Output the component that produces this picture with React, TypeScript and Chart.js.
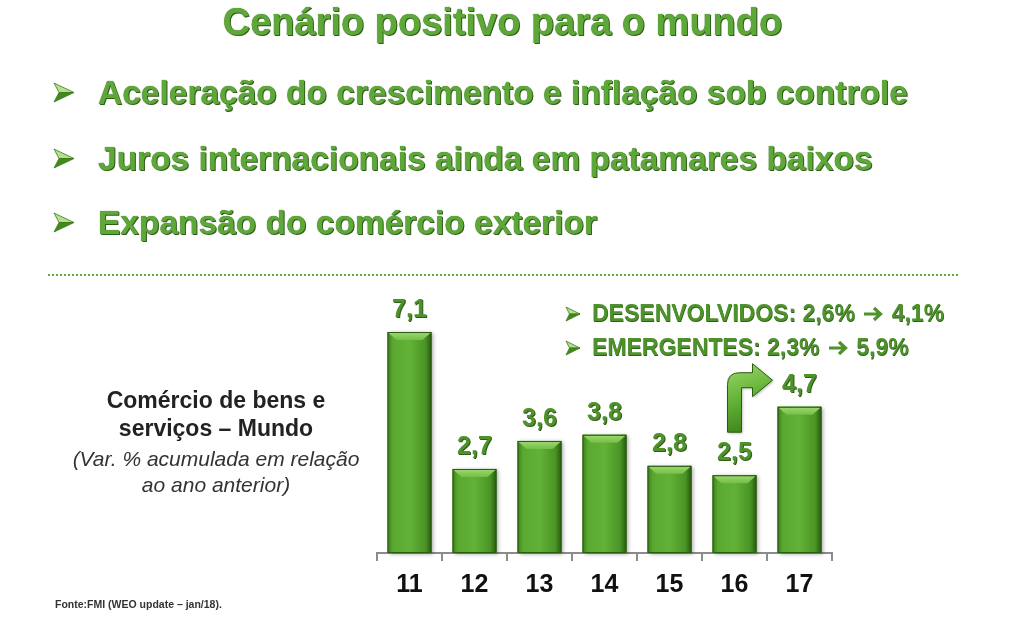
import React, { useEffect, useRef } from "react";
import { Chart, registerables } from "chart.js";

Chart.register(...registerables);

// ---- data ----
const years = ["11", "12", "13", "14", "15", "16", "17"];
const tradeGrowth = [7.1, 2.7, 3.6, 3.8, 2.8, 2.5, 4.7];
const yAxisMax = 8;

const titleText = "Cenário positivo para o mundo";
const bulletTexts = [
  "Aceleração do crescimento e inflação sob controle",
  "Juros internacionais ainda em patamares baixos",
  "Expansão do comércio exterior",
];
const regionNotes = [
  ["DESENVOLVIDOS: 2,6%", "4,1%"],
  ["EMERGENTES: 2,3%", "5,9%"],
];
const sideTitle = ["Comércio de bens e", "serviços – Mundo"];
const sideSubtitle = ["(Var. % acumulada em relação", "ao ano anterior)"];
const sourceText = "Fonte:FMI (WEO update – jan/18).";

const FONT = "'Liberation Sans', Arial, Helvetica, sans-serif";
const GREEN_TEXT = "#4e922c";

const barStylePlugin = {
  id: "barStyle",
  afterDatasetsDraw(chart: any) {
    const ctx = chart.ctx as CanvasRenderingContext2D;
    const meta = chart.getDatasetMeta(0);
    meta.data.forEach((bar: any) => {
      const { x, y, base, width } = bar.getProps(["x", "y", "base", "width"], true);
      const l = x - width / 2;
      const r = x + width / 2;
      const h = base - y;
      ctx.save();
      ctx.shadowColor = "rgba(0,0,0,0.35)";
      ctx.shadowBlur = 4;
      ctx.shadowOffsetX = 2;
      ctx.shadowOffsetY = 1;
      const g = ctx.createLinearGradient(l, 0, r, 0);
      g.addColorStop(0, "#3b7f1a");
      g.addColorStop(0.12, "#5aa830");
      g.addColorStop(0.5, "#62b237");
      g.addColorStop(0.86, "#4a9425");
      g.addColorStop(1, "#285a0f");
      ctx.fillStyle = g;
      ctx.fillRect(l, y, width, h);
      ctx.restore();
      const b = 8;
      ctx.save();
      const gb = ctx.createLinearGradient(0, y, 0, y + b);
      gb.addColorStop(0, "#9fd973");
      gb.addColorStop(1, "#74bf47");
      ctx.fillStyle = gb;
      ctx.beginPath();
      ctx.moveTo(l + 1, y + 1);
      ctx.lineTo(r - 1, y + 1);
      ctx.lineTo(r - 1 - b, y + b);
      ctx.lineTo(l + 1 + b, y + b);
      ctx.closePath();
      ctx.fill();
      ctx.restore();
      ctx.save();
      ctx.strokeStyle = "#2b5c12";
      ctx.lineWidth = 1;
      ctx.strokeRect(l + 0.5, y + 0.5, width - 1, h - 1);
      ctx.restore();
    });
  },
};

const valueLabelPlugin = {
  id: "valueLabels",
  afterDatasetsDraw(chart: any) {
    const ctx = chart.ctx as CanvasRenderingContext2D;
    const meta = chart.getDatasetMeta(0);
    const data = chart.data.datasets[0].data as number[];
    ctx.save();
    ctx.font = `bold 25px ${FONT}`;
    ctx.textAlign = "center";
    ctx.textBaseline = "alphabetic";
    meta.data.forEach((bar: any, i: number) => {
      const label = data[i].toFixed(1).replace(".", ",");
      ctx.fillStyle = "#2f5e18";
      ctx.fillText(label, bar.x + 1, bar.y - 14);
      ctx.fillStyle = GREEN_TEXT;
      ctx.fillText(label, bar.x, bar.y - 15);
    });
    ctx.restore();
  },
};

const bentArrowPlugin = {
  id: "bentArrow",
  afterDatasetsDraw(chart: any) {
    const ctx = chart.ctx as CanvasRenderingContext2D;
    const meta = chart.getDatasetMeta(0);
    const b16 = meta.data[5];
    const b17 = meta.data[6];
    if (!b16 || !b17) return;
    const cx = b16.x;
    const x0 = cx - 7;
    const x1 = cx + 7;
    const yb = b16.y - 43;
    const ya = b17.y - 34;
    const t = 15;
    const rad = 12;
    const tip = b17.x - 27;
    const hx = tip - 20;
    ctx.save();
    ctx.beginPath();
    ctx.moveTo(x0, yb);
    ctx.lineTo(x0, ya + rad);
    ctx.quadraticCurveTo(x0, ya, x0 + rad, ya);
    ctx.lineTo(hx, ya);
    ctx.lineTo(hx, ya - 9);
    ctx.lineTo(tip, ya + t / 2);
    ctx.lineTo(hx, ya + t + 9);
    ctx.lineTo(hx, ya + t);
    ctx.lineTo(x1, ya + t);
    ctx.lineTo(x1, yb);
    ctx.closePath();
    const g = ctx.createLinearGradient(x0, ya, x1 + 10, yb);
    g.addColorStop(0, "#8fd15f");
    g.addColorStop(0.5, "#5fae33");
    g.addColorStop(1, "#3b7f1a");
    ctx.shadowColor = "rgba(0,0,0,0.3)";
    ctx.shadowBlur = 3;
    ctx.shadowOffsetX = 1;
    ctx.shadowOffsetY = 1;
    ctx.fillStyle = g;
    ctx.fill();
    ctx.shadowColor = "transparent";
    ctx.strokeStyle = "#2b5c12";
    ctx.lineWidth = 1;
    ctx.stroke();
    ctx.restore();
  },
};

function Arrowhead({ left, top, w, h }: { left: number; top: number; w: number; h: number }) {
  return (
    <svg
      width={w + 2}
      height={h + 2}
      style={{ position: "absolute", left, top }}
      viewBox={`-1 -1 ${w + 2} ${h + 2}`}
    >
      <polygon points={`0,0 ${w},${h / 2} ${w * 0.25},${h / 2}`} fill="#b4e08e" stroke="#3d7a1c" strokeWidth={0.8} />
      <polygon points={`0,${h} ${w},${h / 2} ${w * 0.25},${h / 2}`} fill="#3f8a1e" stroke="#3d7a1c" strokeWidth={0.8} />
    </svg>
  );
}

function InlineArrow() {
  return (
    <svg
      width={20}
      height={16}
      viewBox="0 0 20 16"
      style={{ display: "inline-block", verticalAlign: "-1px", margin: "0 2px" }}
    >
      <path
        d="M1 8 H17 M11 2 L17.5 8 L11 14"
        fill="none"
        stroke={GREEN_TEXT}
        strokeWidth={3.2}
        strokeLinejoin="miter"
      />
    </svg>
  );
}

export default function App() {
  const canvasRef = useRef<HTMLCanvasElement>(null);

  useEffect(() => {
    document.body.style.margin = "0";
    const chart = new Chart(canvasRef.current as HTMLCanvasElement, {
      type: "bar",
      data: {
        labels: years,
        datasets: [
          {
            data: tradeGrowth,
            backgroundColor: "#5aa632",
            borderWidth: 0,
            barPercentage: 0.9,
            categoryPercentage: 0.75,
          },
        ],
      },
      options: {
        responsive: false,
        animation: false,
        devicePixelRatio: 1,
        layout: { padding: { left: 377, right: 192, top: 304, bottom: 8 } },
        plugins: {
          legend: { display: false },
          tooltip: { enabled: false },
        },
        scales: {
          x: {
            offset: true,
            grid: {
              display: true,
              drawOnChartArea: false,
              drawTicks: true,
              tickLength: 8,
              offset: true,
              lineWidth: 2,
              color: (c: any) => (c.index === years.length ? "rgba(0,0,0,0)" : "#8c8c8c"),
            },
            border: { display: true, color: "#8c8c8c", width: 2 },
            ticks: {
              color: "#111111",
              padding: 9,
              font: { family: FONT, size: 25, weight: "bold" },
            },
          },
          y: { display: false, min: 0, max: yAxisMax },
        },
      },
      plugins: [barStylePlugin, bentArrowPlugin, valueLabelPlugin],
    } as any);
    return () => chart.destroy();
  }, []);

  const greenHeading: React.CSSProperties = {
    position: "absolute",
    whiteSpace: "nowrap",
    fontWeight: "bold",
    lineHeight: 1,
    color: "#5ea739",
    textShadow: "1px 1px 0 #2f5e18, 0 0 1px #2f5e18",
  };

  const bulletY = [92, 158, 222];
  const noteY = [313, 347];

  return (
    <div
      style={{
        position: "fixed",
        left: 0,
        top: 0,
        width: 1024,
        height: 617,
        background: "#ffffff",
        fontFamily: FONT,
        overflow: "hidden",
      }}
    >
      <canvas
        ref={canvasRef}
        width={1024}
        height={617}
        style={{ position: "absolute", left: 0, top: 0, width: 1024, height: 617 }}
      />
      <div style={{ ...greenHeading, left: 0, width: 1005, textAlign: "center", top: 3, fontSize: 38 }}>
        {titleText}
      </div>
      {bulletTexts.map((t, i) => (
        <React.Fragment key={t}>
          <Arrowhead left={53} top={bulletY[i] - 10} w={20} h={19} />
          <div style={{ ...greenHeading, left: 98, top: bulletY[i] - 16, fontSize: 33.5 }}>{t}</div>
        </React.Fragment>
      ))}
      <div
        style={{
          position: "absolute",
          left: 48,
          top: 274,
          width: 910,
          borderTop: "2px dotted #5cb33c",
        }}
      />
      {regionNotes.map((t, i) => (
        <React.Fragment key={t[0]}>
          <Arrowhead left={565} top={noteY[i] - 7} w={14} h={14} />
          <div
            style={{
              position: "absolute",
              whiteSpace: "nowrap",
              lineHeight: 1,
              left: 592,
              top: noteY[i] - 11,
              fontSize: 23,
              fontWeight: "bold",
              color: GREEN_TEXT,
              textShadow: "0.5px 0.5px 0 #2f5e18",
            }}
          >
            {t[0]} <InlineArrow /> {t[1]}
          </div>
        </React.Fragment>
      ))}
      {sideTitle.map((t, i) => (
        <div
          key={t}
          style={{
            position: "absolute",
            left: 66,
            width: 300,
            textAlign: "center",
            whiteSpace: "nowrap",
            lineHeight: 1,
            top: [400, 428][i] - 11,
            fontSize: 23,
            fontWeight: "bold",
            color: "#222222",
          }}
        >
          {t}
        </div>
      ))}
      {sideSubtitle.map((t, i) => (
        <div
          key={t}
          style={{
            position: "absolute",
            left: 66,
            width: 300,
            textAlign: "center",
            whiteSpace: "nowrap",
            lineHeight: 1,
            top: [458, 484][i] - 10,
            fontSize: 21,
            fontStyle: "italic",
            color: "#333333",
          }}
        >
          {t}
        </div>
      ))}
      <div
        style={{
          position: "absolute",
          left: 55,
          top: 599,
          fontSize: 10.5,
          lineHeight: 1,
          fontWeight: "bold",
          color: "#333333",
          whiteSpace: "nowrap",
        }}
      >
        {sourceText}
      </div>
    </div>
  );
}
